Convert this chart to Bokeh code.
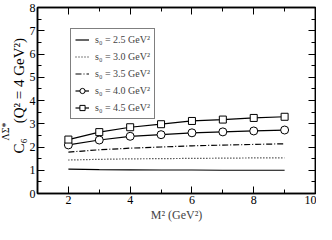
from bokeh.plotting import figure
from bokeh.models import (Range1d, LinearAxis, SingleIntervalTicker, Legend,
                          LegendItem, CustomJSTickFormatter, Title)
from bokeh.embed import file_html
from bokeh.resources import INLINE

m2 = [2, 3, 4, 5, 6, 7, 8, 9]
s25 = [1.05, 1.03, 1.02, 1.01, 1.01, 1.00, 1.00, 1.00]
s30 = [1.44, 1.47, 1.49, 1.50, 1.51, 1.52, 1.53, 1.53]
s35 = [1.78, 1.88, 1.95, 2.00, 2.05, 2.08, 2.11, 2.14]
s40 = [2.09, 2.30, 2.46, 2.53, 2.61, 2.65, 2.69, 2.73]
s45 = [2.32, 2.64, 2.85, 2.98, 3.12, 3.18, 3.25, 3.30]
labels = ["s\u2080 = 2.5 GeV\u00b2", "s\u2080 = 3.0 GeV\u00b2", "s\u2080 = 3.5 GeV\u00b2",
          "s\u2080 = 4.0 GeV\u00b2", "s\u2080 = 4.5 GeV\u00b2"]
ytitle_main = "C\u2086\u2003(Q\u00b2 = 4 GeV\u00b2)"
ytitle_sup = "\u039b\u03a3*"

FONT = "Liberation Serif"

p = figure(width=316, height=224, output_backend="svg", toolbar_location=None,
           x_range=Range1d(1, 10), y_range=Range1d(0, 8), title_location=None,
           min_border_left=28, min_border_right=1, min_border_top=7, min_border_bottom=29)
p.grid.visible = False
p.outline_line_color = "black"
p.outline_line_width = 1.5
p.background_fill_color = "white"

def style_axis(ax, show_labels=True):
    ax.axis_line_color = "black"
    ax.axis_line_width = 1.5
    ax.major_tick_in = 7
    ax.major_tick_out = 0
    ax.minor_tick_in = 4
    ax.minor_tick_out = 0
    ax.major_tick_line_color = "black"
    ax.minor_tick_line_color = "black"
    ax.major_label_text_font = FONT
    ax.major_label_text_font_size = "12px"
    ax.major_label_text_color = "black"
    ax.major_label_standoff = 2
    if not show_labels:
        ax.formatter = CustomJSTickFormatter(code="return ''")
        ax.major_label_standoff = 0

p.xaxis.ticker = SingleIntervalTicker(interval=2, num_minor_ticks=2)
p.yaxis.ticker = SingleIntervalTicker(interval=1, num_minor_ticks=2)
style_axis(p.xaxis[0])
style_axis(p.yaxis[0])
p.xaxis.axis_label = "M\u00b2 (GeV\u00b2)"
p.xaxis.axis_label_text_font = FONT
p.xaxis.axis_label_text_font_size = "12px"
p.xaxis.axis_label_text_font_style = "normal"
p.xaxis.axis_label_standoff = 1

ra = LinearAxis(ticker=SingleIntervalTicker(interval=1, num_minor_ticks=2))
style_axis(ra, False)
p.add_layout(ra, "right")
ta = LinearAxis(ticker=SingleIntervalTicker(interval=2, num_minor_ticks=2))
style_axis(ta, False)
p.add_layout(ta, "above")

# y-axis title: main text and the superscript as two left-side titles
t_main = Title(text=ytitle_main, align="left", offset=40, standoff=0,
               text_font=FONT, text_font_size="15px", text_font_style="normal",
               text_color="black")
p.add_layout(t_main, "left")
t_sup = Title(text=ytitle_sup, align="left", offset=53, standoff=-5,
              text_font=FONT, text_font_size="10px", text_font_style="normal",
              text_color="black")
p.add_layout(t_sup, "left")

r1 = p.line(m2, s25, line_color="black", line_width=1.2)
r2 = p.line(m2, s30, line_color="black", line_width=1.2, line_dash="1 2")
r3 = p.line(m2, s35, line_color="black", line_width=1.2, line_dash="6 2 1 2")
r4 = p.line(m2, s40, line_color="black", line_width=1.2)
r4m = p.scatter(m2, s40, marker="circle", size=8, line_color="black", fill_color="white", line_width=1)
r5 = p.line(m2, s45, line_color="black", line_width=1.2)
r5m = p.scatter(m2, s45, marker="square", size=7, line_color="black", fill_color="white", line_width=1)

legend = Legend(items=[
    LegendItem(label=labels[0], renderers=[r1]),
    LegendItem(label=labels[1], renderers=[r2]),
    LegendItem(label=labels[2], renderers=[r3]),
    LegendItem(label=labels[3], renderers=[r4, r4m]),
    LegendItem(label=labels[4], renderers=[r5, r5m]),
], location=(33, 74))
legend.border_line_color = "black"
legend.border_line_width = 1.5
legend.label_text_font = FONT
legend.label_text_font_size = "10px"
legend.glyph_width = 14
legend.glyph_height = 13
legend.label_height = 13
legend.spacing = 4
legend.padding = 4
legend.margin = 0
legend.label_standoff = 6
p.add_layout(legend, "center")

open("out.html", "w").write(file_html(p, INLINE))
